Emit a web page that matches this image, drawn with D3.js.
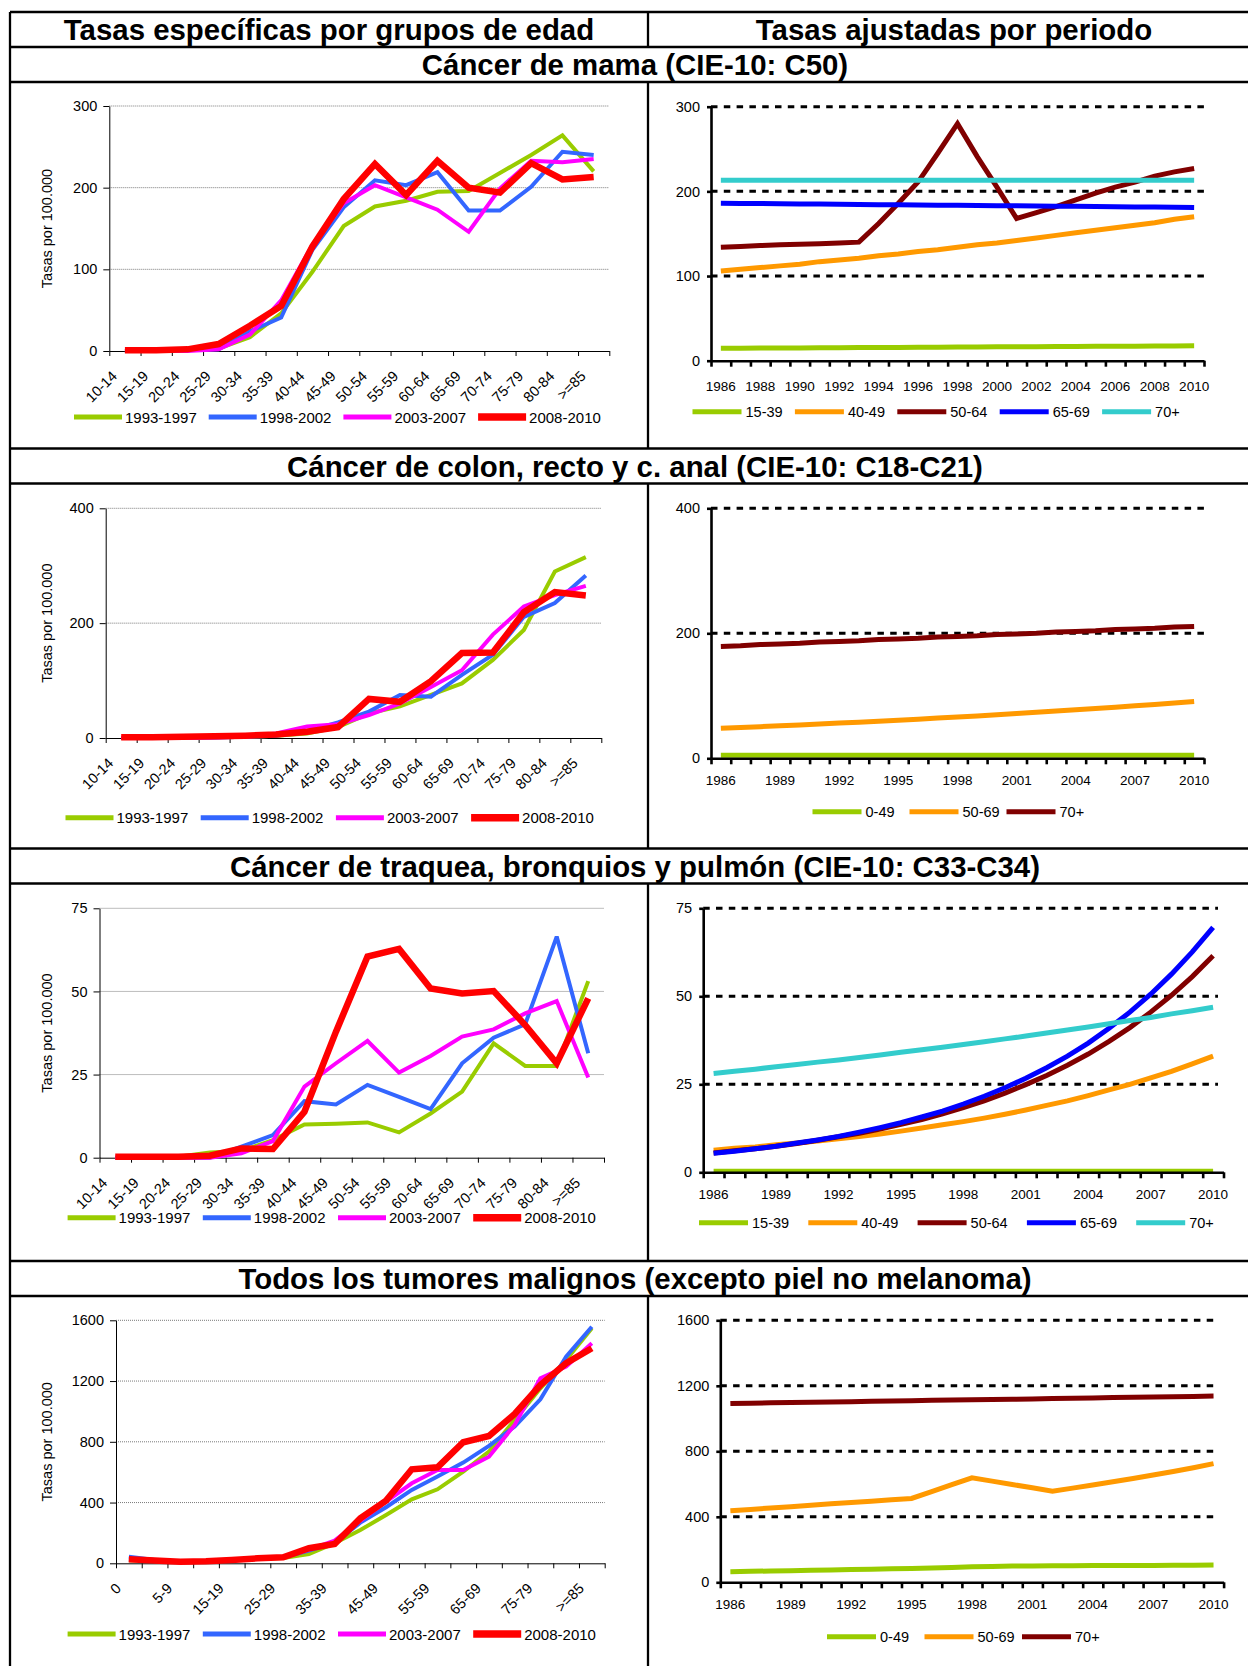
<!DOCTYPE html>
<html>
<head>
<meta charset="utf-8">
<script src="https://cdn.jsdelivr.net/npm/d3@7"></script>
<style>
  html, body { margin: 0; padding: 0; background: #fff; }
  svg { display: block; }
</style>
</head>
<body>
<svg id="chart" width="1248" height="1666"></svg>
<script>
// ---------- categories ----------
const ageGroups = ["10-14","15-19","20-24","25-29","30-34","35-39","40-44","45-49",
  "50-54","55-59","60-64","65-69","70-74","75-79","80-84",">=85"];
const ageGroupsAll = ["0","1-4","5-9","10-14","15-19","20-24","25-29","30-34","35-39","40-44",
  "45-49","50-54","55-59","60-64","65-69","70-74","75-79","80-84",">=85"];
const periods = ["1993-1997","1998-2002","2003-2007","2008-2010"];
const years = [1986,1987,1988,1989,1990,1991,1992,1993,1994,1995,1996,1997,1998,
  1999,2000,2001,2002,2003,2004,2005,2006,2007,2008,2009,2010];

// ---------- tick labels ----------
const ticksMama = [0, 100, 200, 300];
const ticksColon = [0, 200, 400];
const ticksLung = [0, 25, 50, 75];
const ticksAll = [0, 400, 800, 1200, 1600];

// ---------- age-specific rates per 100.000 ----------
const mama1993 = [0, 0, 1, 3, 17, 46, 97, 153, 177, 184, 195, 196, 218, 240, 264, 220];
const mama1998 = [0, 0, 1, 2, 24, 41, 124, 176, 209, 203, 219, 172, 172, 201, 244, 240];
const mama2003 = [0, 0, 0, 2, 20, 62, 130, 181, 203, 188, 173, 146, 199, 233, 231, 235];
const mama2008 = [1, 1, 2, 8.5, 31, 55, 128, 186, 229, 191, 233, 200, 194, 230, 210, 213];

const colon1993 = [0, 0, 0, 1, 2, 4, 8, 19, 43, 55, 75, 95, 136, 188, 290, 315];
const colon1998 = [0, 0, 0, 1, 2, 4, 12, 27, 46, 75, 72, 110, 145, 211, 235, 283];
const colon2003 = [0, 0, 0, 1, 2, 8, 20, 24, 40, 60, 89, 118, 180, 229, 249, 265];
const colon2008 = [1.5, 1.5, 2, 3, 4, 6, 11, 19, 68, 63, 99, 148, 149, 219, 254, 248];

const lung1993 = [0, 0, 0.3, 1.6, 2.0, 5.3, 10.0, 10.2, 10.6, 7.6, 13.3, 19.9, 34.4, 27.6, 27.6, 53.1];
const lung1998 = [0, 0, 0, 0, 3.3, 6.8, 17.0, 16.0, 21.9, 18.3, 14.6, 28.4, 36.1, 40.1, 66.5, 31.4];
const lung2003 = [0, 0, 0, 0, 1.3, 5.0, 21.4, 28.4, 35.1, 25.6, 30.6, 36.4, 38.6, 43.4, 47.1, 24.1];
const lung2008 = [0.3, 0.3, 0.3, 0.6, 2.8, 2.6, 13.8, 37.9, 60.5, 62.8, 50.9, 49.4, 50.1, 39.9, 28.4, 47.9];

const all1993 = [20, 15, 10, 12, 20, 30, 35, 61, 132, 219, 318, 421, 487, 604, 735, 944, 1152, 1339, 1547];
const all1998 = [44, 22, 11, 13, 22, 31, 40, 83, 136, 268, 369, 483, 571, 663, 773, 900, 1080, 1361, 1558];
const all2003 = [24, 18, 11, 13, 22, 32, 40, 90, 149, 281, 406, 527, 614, 614, 702, 911, 1218, 1295, 1449];
const all2008 = [26, 18, 11, 13, 22, 33, 40, 99, 127, 296, 413, 619, 632, 797, 838, 983, 1174, 1317, 1416];

// ---------- age-adjusted rates by year ----------
const mamaAdjGroups = ["15-39", "40-49", "50-64", "65-69", "70+"];
const mamaAdj15 = [14.6, 14.7, 14.9, 15.0, 15.1, 15.2, 15.4, 15.5, 15.6, 15.7, 15.9, 16.0, 16.1,
  16.2, 16.4, 16.5, 16.6, 16.7, 16.9, 17.0, 17.1, 17.2, 17.4, 17.5, 17.6];
const mamaAdj40 = [106, 108, 110, 112, 114, 117, 119, 121, 124, 126, 129, 131, 134,
  137, 139, 142, 145, 148, 151, 154, 157, 160, 163, 167, 170];
const mamaAdj50 = [134, 135, 136, 137, 137.5, 138, 139, 140, 162, 186, 211, 245, 280,
  241, 205, 168, 175, 182, 190, 198, 205, 211, 218, 223, 227];
const mamaAdj65 = [186, 185.8, 185.6, 185.4, 185.2, 185, 184.8, 184.5, 184.3, 184.1, 183.9, 183.7, 183.5,
  183.3, 183.1, 182.9, 182.7, 182.5, 182.3, 182.1, 181.8, 181.6, 181.4, 181.2, 181];
const mamaAdj70 = [213, 213, 213, 213, 213, 213, 213, 213, 213, 213, 213, 213, 213,
  213, 213, 213, 213, 213, 213, 213, 213, 213, 213, 213, 213];

const colonAdjGroups = ["0-49", "50-69", "70+"];
const colonAdj0 = [4.8, 4.8, 4.8, 4.8, 4.8, 4.8, 4.8, 4.8, 4.8, 4.8, 4.8, 4.8, 4.8,
  4.9, 4.9, 4.9, 4.9, 4.9, 4.9, 4.9, 5.0, 5.0, 5.0, 5.0, 5.0];
const colonAdj50 = [48, 49.3, 50.6, 52.0, 53.4, 54.8, 56.3, 57.8, 59.4, 61.0, 62.6, 64.3, 66.0,
  67.8, 69.7, 71.5, 73.5, 75.5, 77.5, 79.6, 81.7, 83.9, 86.2, 88.5, 91.0];
const colonAdj70 = [179, 180, 182, 183, 184, 186, 187, 188, 190, 191, 192, 194, 195,
  196, 198, 199, 200, 202, 203, 204, 206, 207, 208, 210, 211];

const lungAdjGroups = ["15-39", "40-49", "50-64", "65-69", "70+"];
const lungAdj15 = [0.3, 0.3, 0.3, 0.3, 0.3, 0.3, 0.3, 0.3, 0.3, 0.3, 0.3, 0.3, 0.3,
  0.3, 0.3, 0.3, 0.3, 0.3, 0.3, 0.3, 0.3, 0.3, 0.3, 0.3, 0.3];
const lungAdj40 = [6.3, 6.8, 7.2, 7.8, 8.3, 8.9, 9.5, 10.2, 10.9, 11.7, 12.6, 13.5, 14.4,
  15.4, 16.5, 17.7, 19.0, 20.3, 21.8, 23.4, 25.0, 26.8, 28.7, 30.8, 33.0];
const lungAdj50 = [5.5, 6.1, 6.7, 7.4, 8.2, 9.1, 10.1, 11.1, 12.3, 13.6, 15.0, 16.6, 18.4,
  20.3, 22.5, 24.9, 27.5, 30.4, 33.6, 37.2, 41.1, 45.5, 50.3, 55.6, 61.5];
const lungAdj65 = [5.4, 6.0, 6.7, 7.4, 8.3, 9.2, 10.2, 11.4, 12.7, 14.1, 15.7, 17.4, 19.4,
  21.6, 24.0, 26.7, 29.7, 33.0, 36.7, 40.9, 45.5, 50.6, 56.3, 62.6, 69.6];
const lungAdj70 = [28.1, 28.7, 29.3, 30.0, 30.6, 31.3, 31.9, 32.6, 33.3, 34.1, 34.8, 35.5, 36.3,
  37.1, 37.9, 38.7, 39.6, 40.4, 41.3, 42.2, 43.1, 44.0, 45.0, 45.9, 46.9];

const allAdjGroups = ["0-49", "50-69", "70+"];
const allAdj0 = [65, 67, 69, 71, 73, 75, 78, 80, 83, 85, 88, 91, 95,
  97, 99, 100, 101, 101, 102, 102, 103, 103, 104, 104, 105];
const allAdj50 = [437, 445, 454, 462, 470, 479, 487, 495, 504, 512, 554, 596, 638,
  618, 597, 577, 556, 575, 594, 614, 634, 655, 677, 700, 725];
const allAdj70 = [1092, 1094, 1096, 1098, 1100, 1101, 1103, 1105, 1107, 1109, 1111, 1113, 1115,
  1116, 1118, 1120, 1122, 1124, 1126, 1128, 1130, 1131, 1133, 1135, 1137];

// ---------- styling ----------
const FONT = "'Liberation Sans', Arial, Helvetica, sans-serif";
const periodColors = ["#99CC00", "#3366FF", "#FF00FF", "#FF0000"];
const periodWidths = [4, 4, 4, 6.5];
const groupColors5 = ["#99CC00", "#FF9900", "#800000", "#0000FF", "#33CCCC"];
const groupColors3 = ["#99CC00", "#FF9900", "#800000"];
const intFormat = d3.format("d");

const svg = d3.select("#chart").attr("font-family", FONT);

// ---------- table frame ----------
const frame = svg.append("g").attr("stroke", "#000").attr("stroke-width", 2.3).attr("fill", "none");
const L = 10, R = 1260, MID = 648;
const rows = [12, 47, 82, 448.5, 483.5, 848.5, 883.5, 1261, 1296];
rows.forEach(y => frame.append("line").attr("x1", L).attr("x2", R).attr("y1", y).attr("y2", y));
frame.append("line").attr("x1", L).attr("x2", L).attr("y1", 12).attr("y2", 1700);
frame.append("line").attr("x1", R).attr("x2", R).attr("y1", 12).attr("y2", 1700);
[[12, 47], [82, 448.5], [483.5, 848.5], [883.5, 1261], [1296, 1700]].forEach(([a, b]) =>
  frame.append("line").attr("x1", MID).attr("x2", MID).attr("y1", a).attr("y2", b));

function title(text, x, y) {
  svg.append("text").attr("x", x).attr("y", y).attr("text-anchor", "middle")
    .attr("font-size", 29.4).attr("font-weight", "bold").attr("fill", "#000").text(text);
}
title("Tasas específicas por grupos de edad", 329, 40);
title("Tasas ajustadas por periodo", 954, 40);
title("Cáncer de mama (CIE-10: C50)", 635, 74.5);
title("Cáncer de colon, recto y c. anal (CIE-10: C18-C21)", 635, 476.5);
title("Cáncer de traquea, bronquios y pulmón (CIE-10: C33-C34)", 635, 876.5);
title("Todos los tumores malignos (excepto piel no melanoma)", 635, 1289);

// ---------- age-specific chart ----------
function ageChart(c) {
  const g = svg.append("g");
  const n = c.categories.length;
  const x = d3.scaleBand().domain(c.categories).range([c.x0, c.x1]);
  const xi = d3.scaleLinear().domain([0, n]).range([c.x0, c.x1]);
  const y = d3.scaleLinear().domain([0, c.yMax]).range([c.y0, c.yTop]);

  // dotted gridlines
  g.append("g").selectAll("line").data(c.yTicks.filter(d => d > 0)).join("line")
    .attr("x1", c.x0).attr("x2", c.x1)
    .attr("y1", d => y(d)).attr("y2", d => y(d))
    .attr("stroke", "#7a7a7a").attr("stroke-width", 1).attr("stroke-dasharray", "1,1");

  // y axis
  const ya = g.append("g").attr("transform", `translate(${c.x0},0)`)
    .call(d3.axisLeft(y).tickValues(c.yTicks).tickFormat(intFormat)
      .tickSize(6).tickSizeOuter(0).tickPadding(6));
  ya.attr("font-family", FONT).attr("font-size", 14.5);
  ya.selectAll("path,line").attr("stroke", "#000");
  ya.selectAll("text").attr("fill", "#000");

  // x axis: ticks at band boundaries
  const xa = g.append("g").attr("transform", `translate(0,${c.y0})`)
    .call(d3.axisBottom(xi).tickValues(d3.range(n + 1)).tickSize(5).tickSizeOuter(0).tickFormat(""));
  xa.selectAll("path,line").attr("stroke", "#000");

  // rotated category labels
  const xl = g.append("g").attr("transform", `translate(0,${c.y0})`)
    .call(d3.axisBottom(x).tickSize(0)
      .tickValues(c.categories.filter((d, i) => i % c.labelEvery === 0)));
  xl.select(".domain").remove();
  xl.attr("font-family", FONT).attr("font-size", 14.5);
  xl.selectAll("text").attr("fill", "#000").attr("x", 0).attr("y", 0).attr("dy", null)
    .attr("text-anchor", "end").attr("transform", "translate(-7,26) rotate(-45)");

  // y title
  g.append("text").attr("transform", `translate(47,${(c.y0 + c.yTop) / 2}) rotate(-90)`)
    .attr("text-anchor", "middle").attr("dominant-baseline", "central")
    .attr("font-size", 14.5).attr("fill", "#000").text("Tasas por 100.000");

  // series
  const line = d3.line().x((d, i) => x(c.categories[i]) + x.bandwidth() / 2).y(d => y(d));
  c.series.forEach((s, k) => {
    g.append("path").attr("d", line(s)).attr("fill", "none")
      .attr("stroke", periodColors[k]).attr("stroke-width", periodWidths[k])
      .attr("stroke-linejoin", "miter").attr("stroke-miterlimit", 3);
  });

  // legend
  const lg = g.append("g");
  periods.forEach((p, k) => {
    const lx = c.legX + k * c.legStep;
    lg.append("line").attr("x1", lx).attr("x2", lx + 48).attr("y1", c.legY).attr("y2", c.legY)
      .attr("stroke", periodColors[k]).attr("stroke-width", periodWidths[k] + 1);
    lg.append("text").attr("x", lx + 51).attr("y", c.legY).attr("dominant-baseline", "central")
      .attr("font-size", 15).attr("fill", "#000").text(p);
  });
}

ageChart({ categories: ageGroups, series: [mama1993, mama1998, mama2003, mama2008],
  x0: 109.3, x1: 609.3, yTop: 106, y0: 351, yMax: 300, yTicks: ticksMama, labelEvery: 1,
  legX: 74, legStep: 134.7, legY: 417 });
ageChart({ categories: ageGroups, series: [colon1993, colon1998, colon2003, colon2008],
  x0: 105.7, x1: 601.3, yTop: 508.3, y0: 738, yMax: 400, yTicks: ticksColon, labelEvery: 1,
  legX: 65.5, legStep: 135.2, legY: 817.7 });
ageChart({ categories: ageGroups, series: [lung1993, lung1998, lung2003, lung2008],
  x0: 99.5, x1: 604, yTop: 908.3, y0: 1157.7, yMax: 75, yTicks: ticksLung, labelEvery: 1,
  legX: 67.6, legStep: 135.2, legY: 1217.7 });
ageChart({ categories: ageGroupsAll, series: [all1993, all1998, all2003, all2008],
  x0: 116, x1: 604.7, yTop: 1320.3, y0: 1563.3, yMax: 1600, yTicks: ticksAll, labelEvery: 2,
  legX: 67.6, legStep: 135.2, legY: 1634 });

// ---------- adjusted-rate trend chart ----------
function trendChart(c) {
  const g = svg.append("g");
  const n = years.length;
  const x = d3.scaleBand().domain(years).range([c.x0, c.x1]);
  const xi = d3.scaleLinear().domain([0, n]).range([c.x0, c.x1]);
  const y = d3.scaleLinear().domain([0, c.yMax]).range([c.y0, c.yTop]);

  // dashed gridlines
  g.append("g").selectAll("line").data(c.yTicks.filter(d => d > 0)).join("line")
    .attr("x1", c.x0).attr("x2", c.gridEnd)
    .attr("y1", d => y(d)).attr("y2", d => y(d))
    .attr("stroke", "#000").attr("stroke-width", 3).attr("stroke-dasharray", "6.5,6.3");

  // series
  const line = d3.line().x((d, i) => x(years[i]) + x.bandwidth() / 2).y(d => y(d));
  c.series.forEach((s, k) => {
    g.append("path").attr("d", line(s)).attr("fill", "none")
      .attr("stroke", c.colors[k]).attr("stroke-width", 5).attr("stroke-linejoin", "miter")
      .attr("stroke-miterlimit", 3);
  });

  // y axis
  const ya = g.append("g").attr("transform", `translate(${c.x0},0)`)
    .call(d3.axisLeft(y).tickValues(c.yTicks).tickFormat(intFormat)
      .tickSize(4).tickSizeOuter(0).tickPadding(7));
  ya.attr("font-family", FONT).attr("font-size", 14.5);
  ya.selectAll("path,line").attr("stroke", "#000").attr("stroke-width", 2.6);
  ya.selectAll("text").attr("fill", "#000");

  // x axis with a tick at every year boundary
  const xa = g.append("g").attr("transform", `translate(0,${c.y0})`)
    .call(d3.axisBottom(xi).tickValues(d3.range(n + 1)).tickSize(6).tickSizeOuter(0).tickFormat(""));
  xa.selectAll("path,line").attr("stroke", "#000").attr("stroke-width", 2.6);

  const xl = g.append("g").attr("transform", `translate(0,${c.y0})`)
    .call(d3.axisBottom(x).tickSize(0)
      .tickValues(years.filter((d, i) => i % c.labelEvery === 0)));
  xl.select(".domain").remove();
  xl.attr("font-family", FONT).attr("font-size", 13.5);
  xl.selectAll("text").attr("fill", "#000").attr("y", c.labelDy).attr("dy", null)
    .attr("dominant-baseline", "central");

  // legend
  c.groups.forEach((name, k) => {
    const lx = c.legX + k * c.legStep;
    g.append("line").attr("x1", lx).attr("x2", lx + 49).attr("y1", c.legY).attr("y2", c.legY)
      .attr("stroke", c.colors[k]).attr("stroke-width", 5);
    g.append("text").attr("x", lx + 53).attr("y", c.legY).attr("dominant-baseline", "central")
      .attr("font-size", 14.5).attr("fill", "#000").text(name);
  });
}

trendChart({ series: [mamaAdj15, mamaAdj40, mamaAdj50, mamaAdj65, mamaAdj70],
  groups: mamaAdjGroups, colors: groupColors5,
  x0: 711, x1: 1204, gridEnd: 1205, yTop: 106.7, y0: 360.7, yMax: 300, yTicks: ticksMama,
  labelEvery: 2, labelDy: 25.5, legX: 692.5, legStep: 102.4, legY: 411.7 });
trendChart({ series: [colonAdj0, colonAdj50, colonAdj70],
  groups: colonAdjGroups, colors: groupColors3,
  x0: 711, x1: 1204, gridEnd: 1205, yTop: 508.3, y0: 758.3, yMax: 400, yTicks: ticksColon,
  labelEvery: 3, labelDy: 22, legX: 812.5, legStep: 97, legY: 811.7 });
trendChart({ series: [lungAdj15, lungAdj40, lungAdj50, lungAdj65, lungAdj70],
  groups: lungAdjGroups, colors: groupColors5,
  x0: 703.2, x1: 1223.5, gridEnd: 1218, yTop: 908.3, y0: 1172.3, yMax: 75, yTicks: ticksLung,
  labelEvery: 3, labelDy: 22, legX: 699, legStep: 109.3, legY: 1222.7 });
trendChart({ series: [allAdj0, allAdj50, allAdj70],
  groups: allAdjGroups, colors: groupColors3,
  x0: 720.3, x1: 1223.6, gridEnd: 1218.5, yTop: 1320.3, y0: 1582.3, yMax: 1600, yTicks: ticksAll,
  labelEvery: 3, labelDy: 22, legX: 827, legStep: 97.5, legY: 1636.7 });
</script>
</body>
</html>
